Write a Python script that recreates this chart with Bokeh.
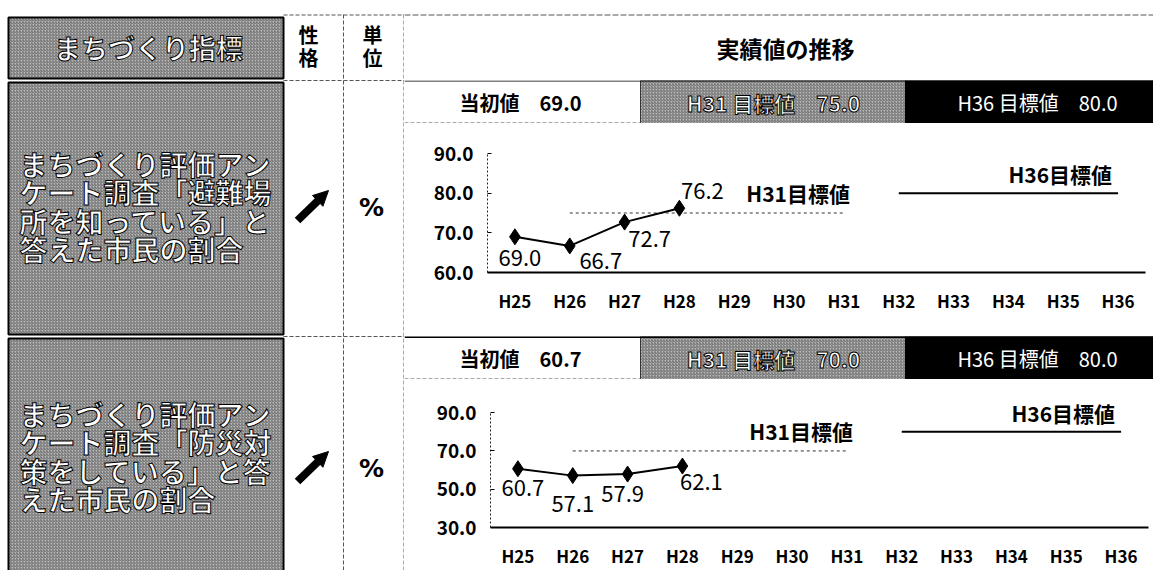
from bokeh.plotting import figure
from bokeh.layouts import row, column
from bokeh.models import (Range1d, FactorRange, FixedTicker, PrintfTickFormatter,
                          ColumnDataSource, Arrow, NormalHead, Label)
from bokeh.core.properties import value
from bokeh.embed import file_html
from bokeh.resources import INLINE

# ---------------- data ----------------
years = ["H25", "H26", "H27", "H28", "H29", "H30", "H31", "H32", "H33", "H34", "H35", "H36"]
actual_years = ["H25", "H26", "H27", "H28"]

row1_values = [69.0, 66.7, 72.7, 76.2]
row1_initial = 69.0
row1_h31_target = 75.0
row1_h36_target = 80.0
row1_yticks = [60.0, 70.0, 80.0, 90.0]

row2_values = [60.7, 57.1, 57.9, 62.1]
row2_initial = 60.7
row2_h31_target = 70.0
row2_h36_target = 80.0
row2_yticks = [30.0, 50.0, 70.0, 90.0]

header_indicator = "まちづくり指標"
header_nature = ["性", "格"]
header_unit = ["単", "位"]
header_trend = "実績値の推移"
row1_name = ["まちづくり評価アン", "ケート調査「避難場", "所を知っている」と", "答えた市民の割合"]
row2_name = ["まちづくり評価アン", "ケート調査「防災対", "策をしている」と答", "えた市民の割合"]
unit_label = "%"
h31_span = ["H26", "H31"]
h36_span = ["H32", "H36"]

JPN = "Noto Sans CJK JP"
JP = value(JPN)
HATCH = dict(fill_color="#b9b9b9", hatch_pattern="/", hatch_color="#6a6a6a",
             hatch_scale=3, hatch_weight=1)


def blank(width, height, x0, x1, y_top, y_bottom):
    p = figure(width=width, height=height, output_backend="svg", toolbar_location=None,
               x_range=Range1d(x0, x1), y_range=Range1d(y_bottom, y_top),
               min_border=0, outline_line_color=None)
    p.axis.visible = False
    p.grid.visible = False
    return p


# ---------------- left part: indicator / nature / unit ----------------
left = blank(404, 570, 0, 404, 0, 570)
left.quad(left=[8], right=[283], top=[17], bottom=[78], line_color="black", line_width=2, **HATCH)
left.text(x=[148], y=[47], text=[header_indicator], text_font=JP, text_font_size="27px",
          text_font_style="bold", text_color="white", text_outline_color="black",
          text_align="center", text_baseline="middle")
left.text(x=[308, 308], y=[34, 57], text=header_nature, text_font=JP, text_font_size="20px",
          text_font_style="bold", text_align="center", text_baseline="middle")
left.text(x=[372, 372], y=[34, 57], text=header_unit, text_font=JP, text_font_size="20px",
          text_font_style="bold", text_align="center", text_baseline="middle")

for top, bottom, lines, y0, arrow_y in [(82, 334, row1_name, 163, 205), (338, 575, row2_name, 413, 466)]:
    left.quad(left=[8], right=[283], top=[top], bottom=[bottom], line_color="black",
              line_width=2, **HATCH)
    left.text(x=[19] * len(lines), y=[y0 + 28.5 * i for i in range(len(lines))], text=lines,
              text_font=JP, text_font_size="28px", text_font_style="bold",
              text_color="white", text_outline_color="black",
              text_align="left", text_baseline="middle")
    left.add_layout(Arrow(end=NormalHead(size=15, fill_color="black", line_color="black"),
                          x_start=297, y_start=arrow_y + 15, x_end=328, y_end=arrow_y - 15,
                          line_width=8, line_color="black"))
    left.segment(x0=[300], y0=[arrow_y + 12], x1=[318], y1=[arrow_y - 5],
                 line_color="white", line_width=1.5, line_dash="2 2")
    left.text(x=[371], y=[arrow_y + 2], text=[unit_label], text_font=value("DejaVu Sans"),
              text_font_size="25px", text_font_style="bold",
              text_align="center", text_baseline="middle")

left.segment(x0=[343, 403.5], y0=[14, 14], x1=[343, 403.5], y1=[570, 570],
             line_color="#555555", line_width=1, line_dash="4 2")
left.segment(x0=[283, 283, 283], y0=[14.5, 80, 336], x1=[404, 404, 404], y1=[14.5, 80, 336],
             line_color="#555555", line_width=1, line_dash="4 2")

# ---------------- header of trend column ----------------
header = blank(749, 80, 404, 1153, 0, 80)
header.segment(x0=[404], y0=[14.5], x1=[1153], y1=[14.5], line_color="#555555", line_dash="6 2")
header.text(x=[785], y=[47], text=[header_trend], text_font=JP, text_font_size="23px",
            text_font_style="bold", text_align="center", text_baseline="middle")


def band(initial, h31, h36, top_line):
    b = blank(749, 43, 404, 1153, 80, 123)
    b.quad(left=[640], right=[905], top=[80], bottom=[123], line_color="#333333",
           line_width=1, **HATCH)
    b.quad(left=[905], right=[1153], top=[80], bottom=[123], fill_color="black", line_color="black")
    b.segment(x0=[404], y0=[122.5], x1=[640], y1=[122.5], line_color="#555555", line_dash="4 2")
    b.segment(x0=[404], y0=[80.5], x1=[1153], y1=[80.5], line_color="black",
              line_width=top_line)
    b.text(x=[520], y=[102], text=["当初値　%.1f" % initial], text_font=JP,
           text_font_size="20px", text_font_style="bold", text_align="center",
           text_baseline="middle")
    b.text(x=[773], y=[102], text=["H31 目標値　%.1f" % h31], text_font=JP,
           text_font_size="21px", text_font_style="bold", text_color="white",
           text_outline_color="black", text_align="center", text_baseline="middle")
    b.text(x=[1037], y=[102], text=["H36 目標値　%.1f" % h36], text_font=JP,
           text_font_size="20px", text_color="white", text_align="center",
           text_baseline="middle")
    return b


def factor_center(f):
    # centre of a factor in the categorical range's synthetic coordinates
    return years.index(f) + 0.5


def chart(values, h31, h36, yticks, headroom, height, borders, label_dx, label_dy):
    lb, rb, tb, bb = borders
    p = figure(width=749, height=height, output_backend="svg", toolbar_location=None,
               x_range=FactorRange(*years, range_padding=0),
               y_range=Range1d(yticks[0], yticks[-1] + headroom),
               min_border_left=lb, min_border_right=rb, min_border_top=tb, min_border_bottom=bb,
               outline_line_color=None)
    p.grid.visible = False
    p.yaxis.bounds = (yticks[0], yticks[-1])
    p.yaxis.ticker = FixedTicker(ticks=yticks)
    p.yaxis.formatter = PrintfTickFormatter(format="%.1f")
    p.yaxis.axis_line_dash = "2 2"
    p.yaxis.axis_line_color = "#222222"
    p.yaxis.major_tick_in = 4
    p.yaxis.major_tick_out = 0
    p.yaxis.minor_tick_line_color = None
    p.yaxis.major_label_standoff = 14
    p.yaxis.major_label_text_font = JPN
    p.yaxis.major_label_text_font_size = "19px"
    p.yaxis.major_label_text_font_style = "bold"
    p.yaxis.major_label_text_color = "black"
    p.xaxis.axis_line_width = 2
    p.xaxis.axis_line_color = "black"
    p.xaxis.major_tick_line_color = None
    p.xaxis.major_label_standoff = 9
    p.xaxis.major_label_text_font = JPN
    p.xaxis.major_label_text_font_size = "17px"
    p.xaxis.major_label_text_font_style = "bold"
    p.xaxis.major_label_text_color = "black"

    p.line(x=h31_span, y=[h31, h31], line_color="#333333", line_width=1, line_dash="3 3")
    p.line(x=h36_span, y=[h36, h36], line_color="black", line_width=2)
    p.add_layout(Label(x=factor_center(h31_span[1]), y=h31, text="H31目標値", text_font=JPN,
                       text_font_size="21px", text_font_style="bold", text_align="right",
                       text_baseline="bottom", text_color="black", x_offset=6, y_offset=5))
    p.add_layout(Label(x=factor_center(h36_span[1]), y=h36, text="H36目標値", text_font=JPN,
                       text_font_size="21px", text_font_style="bold", text_align="right",
                       text_baseline="bottom", text_color="black", x_offset=-6, y_offset=4))

    src = ColumnDataSource(dict(x=actual_years, y=values, label=["%.1f" % v for v in values],
                                dx=label_dx, dy=label_dy))
    p.line(x="x", y="y", source=src, line_color="black", line_width=2)
    p.scatter(x="x", y="y", source=src, marker="diamond", size=16, fill_color="black",
              line_color="black")
    p.text(x="x", y="y", text="label", source=src, x_offset="dx", y_offset="dy",
           text_font=JP, text_font_size="22px", text_align="center", text_baseline="middle")
    return p


band1 = band(row1_initial, row1_h31_target, row1_h36_target, 1)
chart1 = chart(row1_values, row1_h31_target, row1_h36_target, row1_yticks, 0, 213,
               (83, 8, 30, 64), [5, 31, 25, 23], [21, 15, 17, -17])
band2 = band(row2_initial, row2_h31_target, row2_h36_target, 2)
chart2 = chart(row2_values, row2_h31_target, row2_h36_target, row2_yticks, 10, 191,
               (86, 5, 14, 36), [5, 0, -5, 19], [19, 28, 20, 16])

right = column(row(header), row(band1), row(chart1), row(band2), row(chart2), spacing=0)
layout = row(left, right, spacing=0)

open("out.html", "w").write(file_html(layout, INLINE))
